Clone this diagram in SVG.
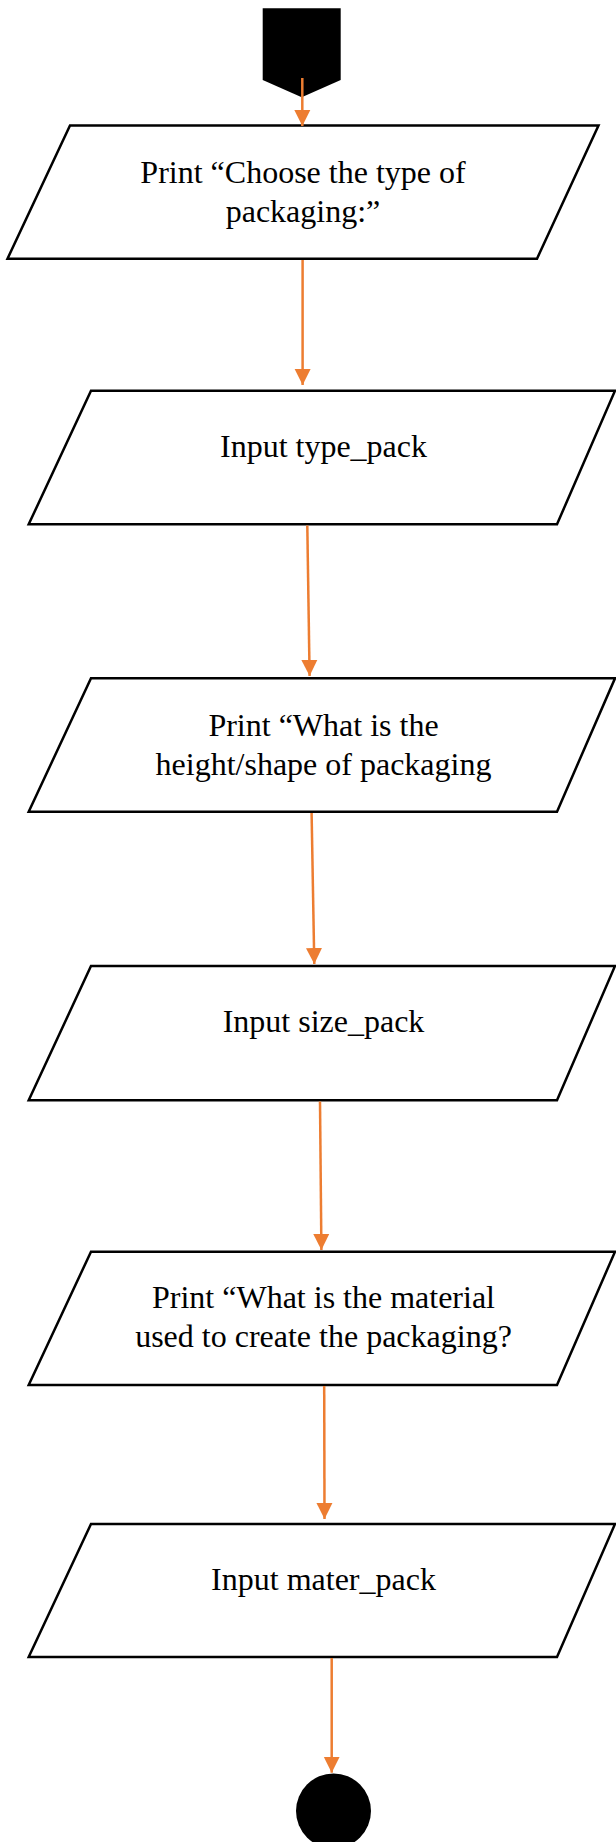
<svg xmlns="http://www.w3.org/2000/svg" width="616" height="1842" viewBox="0 0 616 1842">
<style>
.io{fill:#fff;stroke:#000;stroke-width:2.5;stroke-linejoin:miter}
.t{font-family:"Liberation Serif","Times New Roman",serif;font-size:32px;fill:#000;text-anchor:middle}
.c{stroke:#ED7D31;stroke-width:2.5;fill:none;marker-end:url(#ah)}
</style>
<defs>
<marker id="ah" markerUnits="userSpaceOnUse" markerWidth="16" markerHeight="17" refX="16" refY="8" orient="auto" viewBox="0 0 16 16">
<path d="M0,0 L16,8 L0,16 Z" fill="#ED7D31"/>
</marker>
</defs>
<rect width="616" height="1842" fill="#fff"/>
<g id="start"><polygon points="262.7,8.3 340.7,8.3 340.7,80 301.7,97.3 262.7,80" fill="#000"/></g>
<g id="n1"><polygon class="io" points="70,125.5 598.5,125.5 537,258.7 7.5,258.7"/>
<text class="t" x="303" y="183">Print “Choose the type of</text>
<text class="t" x="303" y="222">packaging:”</text></g>
<g id="n2"><polygon class="io" points="91,390.7 615,390.7 557,524.3 28.7,524.3"/>
<text class="t" x="323.5" y="457.3">Input type_pack</text></g>
<g id="n3"><polygon class="io" points="91,678.3 615,678.3 557,811.7 28.7,811.7"/>
<text class="t" x="323.5" y="736">Print “What is the</text>
<text class="t" x="323.5" y="775">height/shape of packaging</text></g>
<g id="n4"><polygon class="io" points="91,966 615,966 557,1100.3 28.7,1100.3"/>
<text class="t" x="323.5" y="1031.7">Input size_pack</text></g>
<g id="n5"><polygon class="io" points="91,1251.7 615,1251.7 557,1385 28.7,1385"/>
<text class="t" x="323.5" y="1308.3">Print “What is the material</text>
<text class="t" x="323.5" y="1347.3">used to create the packaging?</text></g>
<g id="n6"><polygon class="io" points="91,1524 615,1524 557,1657 28.7,1657"/>
<text class="t" x="323.5" y="1590">Input mater_pack</text></g>
<g id="end"><circle cx="333.5" cy="1811" r="37.5" fill="#000"/></g>
<g id="connectors">
<path class="c" d="M302.3,78 L302.3,126"/>
<path class="c" d="M302.6,260 L302.6,385"/>
<path class="c" d="M307.3,525.5 L309.6,676"/>
<path class="c" d="M311.6,813 L314.3,964"/>
<path class="c" d="M320,1101.5 L321.4,1250"/>
<path class="c" d="M324.2,1386 L324.5,1519"/>
<path class="c" d="M331.7,1658 L331.7,1772.7"/>
</g>
</svg>
